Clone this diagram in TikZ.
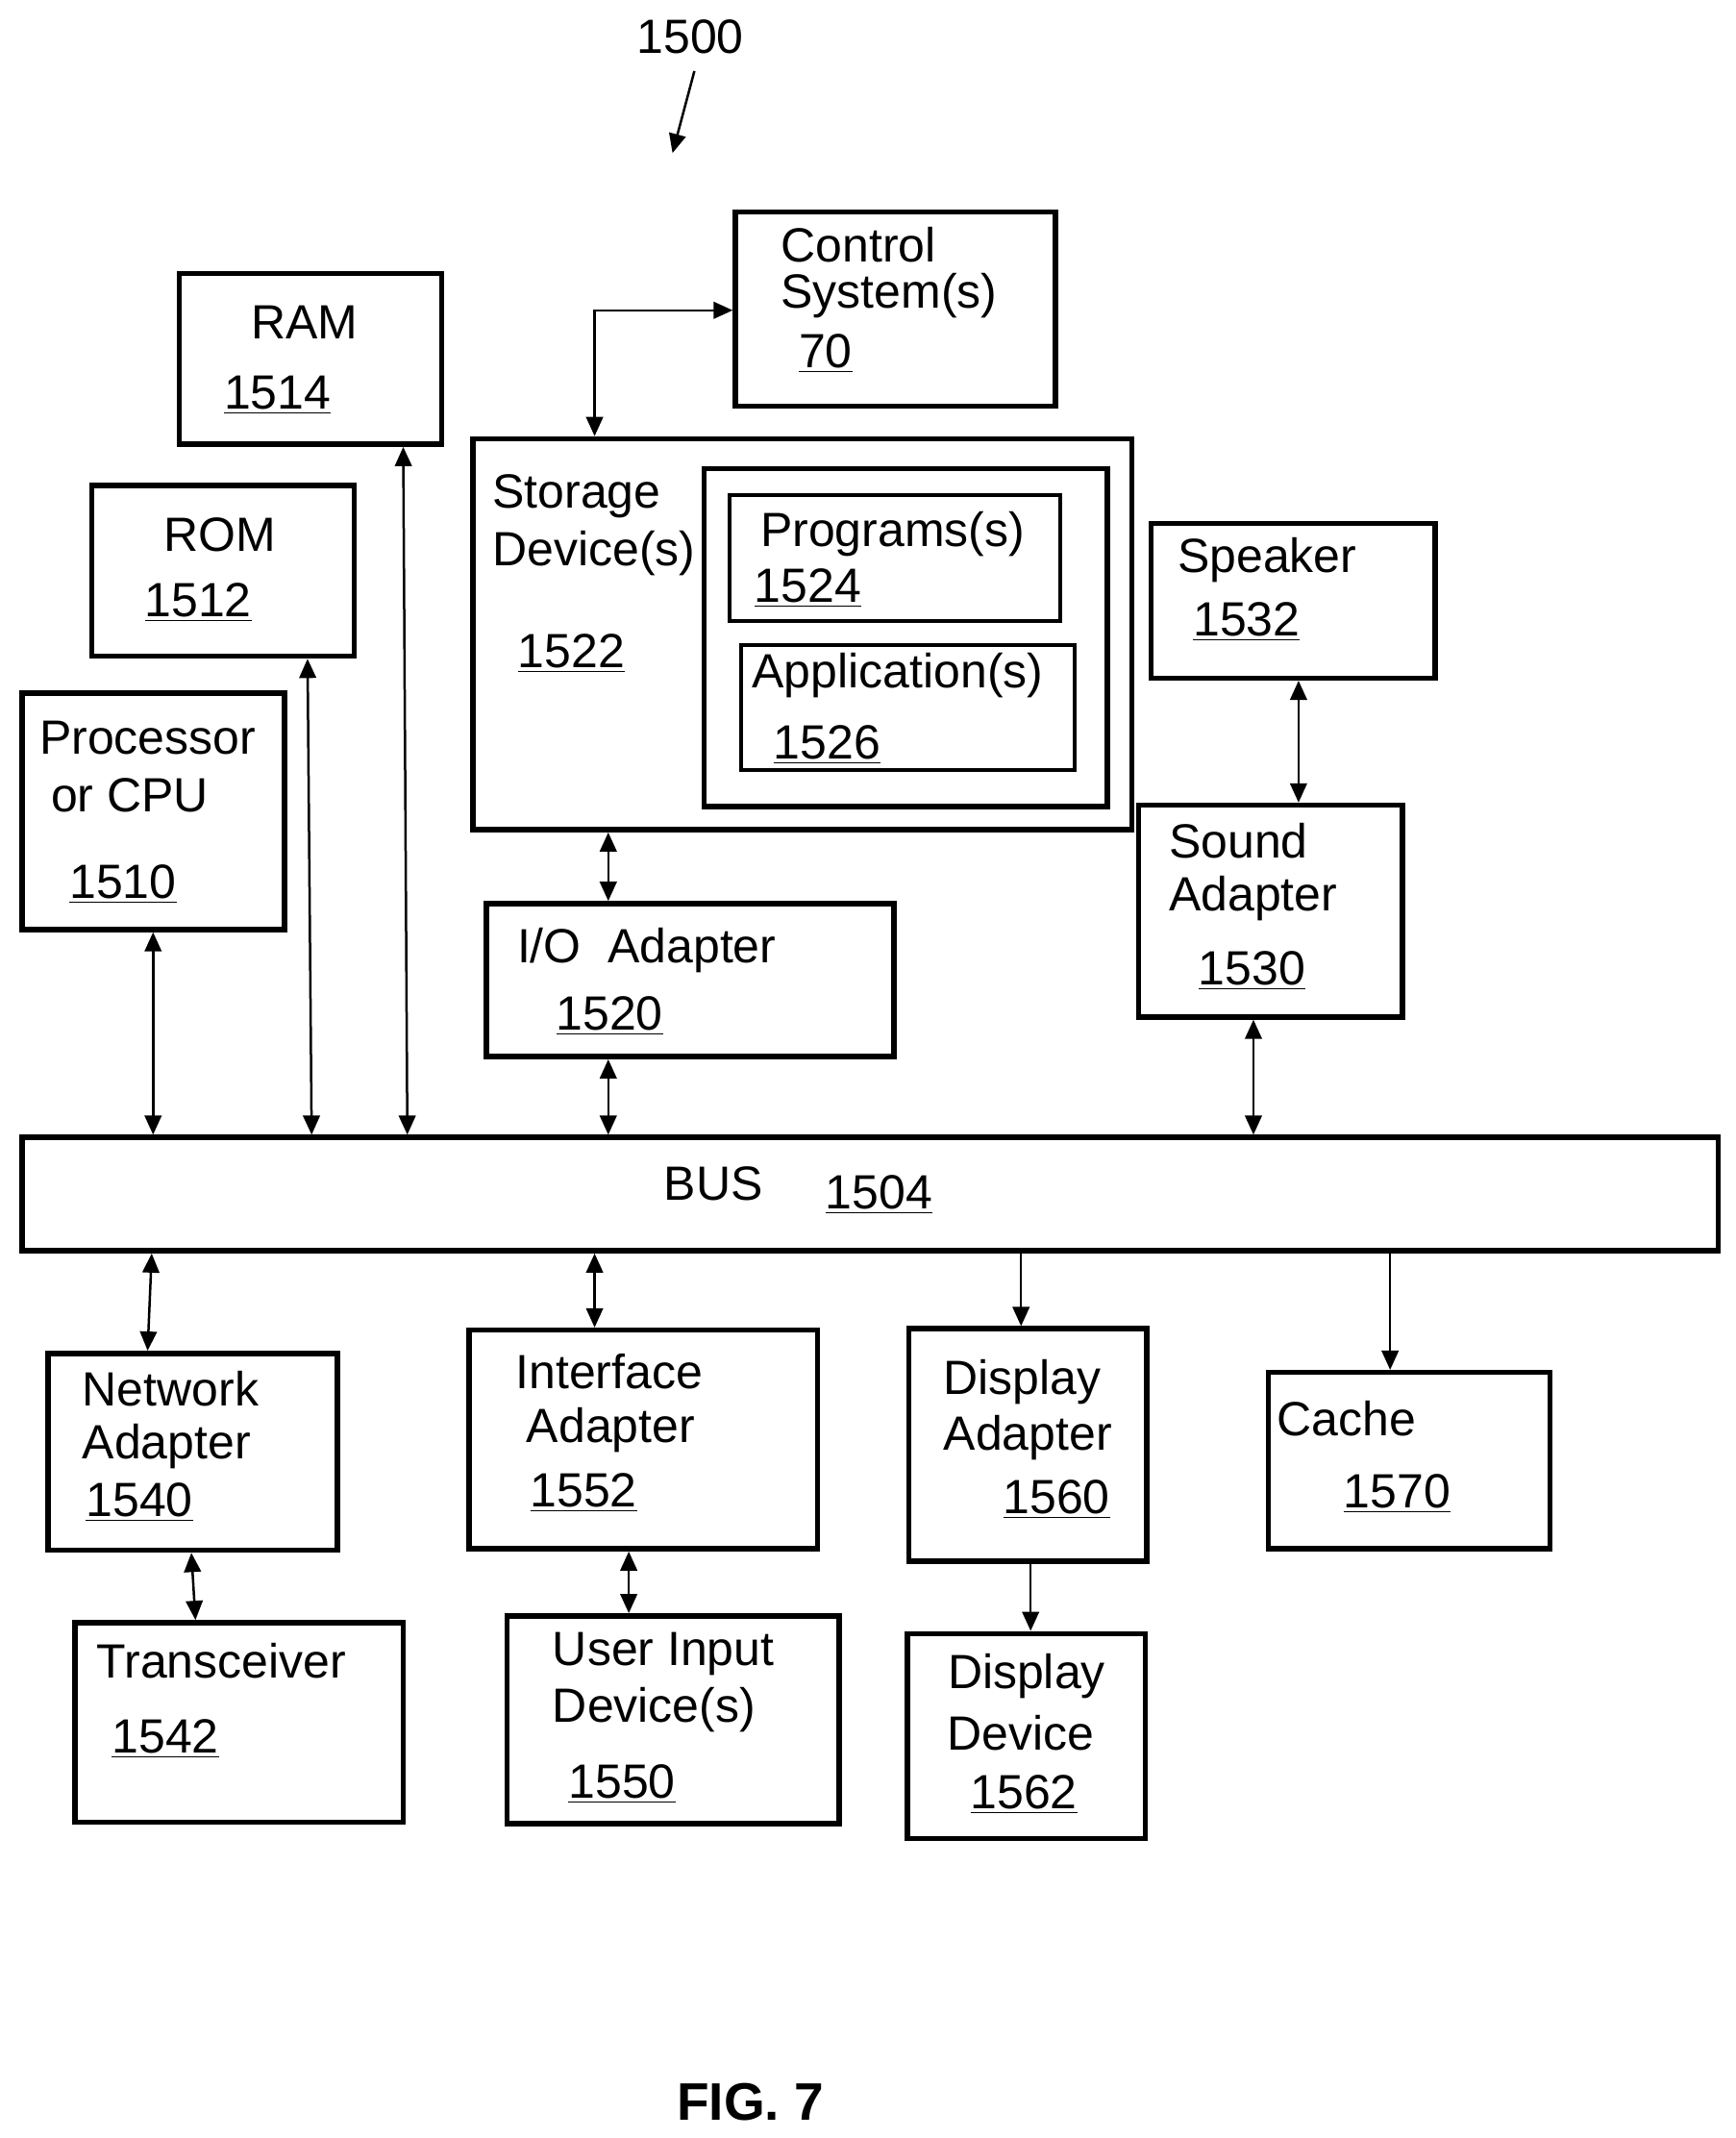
\documentclass[tikz,border=0pt]{standalone}
\usepackage{fontspec}
\setmainfont{Liberation Sans}
\usetikzlibrary{arrows.meta, fit, positioning}
\tikzset{
    box/.style={rectangle, draw, line width=2.2pt, inner sep=0pt},
    lbl/.style={font=\fontsize{20}{24}\selectfont, inner sep=0pt},
    dbl/.style={{Triangle[length=8pt,width=7pt]}-{Triangle[length=8pt,width=7pt]}, line width=1pt},
    one/.style={-{Triangle[length=8pt,width=7pt]}, line width=1pt}
}
\begin{document}
\begin{tikzpicture}[x=0.02cm, y=-0.02cm]
    \useasboundingbox (0,0) rectangle (1270,1564);
    % Figure reference
    \node[lbl] (ref) at (505,27) {1500};
    \coordinate (refend) at (492,112);
    \draw[one] (508,52) -- (refend);

    % Memory and processor
    \node[box, fit={(131,200) (323,325)}] (ram) {};
    \node[lbl] at (223,236) {RAM};
    \node[lbl] at (203,289) {\underline{1514}};
    \node[box, fit={(67,355) (259,480)}] (rom) {};
    \node[lbl] at (161,391) {ROM};
    \node[lbl] at (145,441) {\underline{1512}};
    \node[box, fit={(16,507) (208,680)}] (cpu) {};
    \node[lbl] at (108,540) {Processor};
    \node[lbl] at (95,582) {or CPU};
    \node[lbl] at (90,647) {\underline{1510}};

    % Control and storage
    \node[box, fit={(538,155) (772,297)}] (ctrl) {};
    \node[lbl, anchor=west] at (571,179) {Control};
    \node[lbl, anchor=west] at (571,216) {System(s)};
    \node[lbl] at (604,259) {\underline{70}};
    \node[box, fit={(346,321) (828,607)}] (stor) {};
    \node[lbl, anchor=west] at (360,363) {Storage};
    \node[lbl, anchor=west] at (360,405) {Device(s)};
    \node[lbl] at (418,478) {\underline{1522}};
    \node[box, fit={(515,343) (810,590)}] (inner) {};
    \node[box, line width=1.6pt, fit={(534,362) (776,454)}] (prog) {};
    \node[lbl, anchor=west] at (556,391) {Programs(s)};
    \node[lbl] at (591,430) {\underline{1524}};
    \node[box, line width=1.6pt, fit={(542,472) (786,563)}] (app) {};
    \node[lbl, anchor=west] at (550,494) {Application(s)};
    \node[lbl] at (605,545) {\underline{1526}};

    % Sound
    \node[box, fit={(842,383) (1050,496)}] (spk) {};
    \node[lbl] at (927,410) {Speaker};
    \node[lbl] at (912,455) {\underline{1532}};
    \node[box, fit={(833,589) (1026,744)}] (snd) {};
    \node[lbl, anchor=west] at (855,615) {Sound};
    \node[lbl, anchor=west] at (855,657) {Adapter};
    \node[lbl] at (916,710) {\underline{1530}};

    % I/O adapter
    \node[box, fit={(356,661) (654,773)}] (io) {};
    \node[lbl, anchor=west] at (378,695) {I/O\ \ Adapter};
    \node[lbl] at (446,743) {\underline{1520}};

    % Bus
    \node[box, fit={(16,832) (1257,915)}] (bus) {};
    \node[lbl] at (522,866) {BUS};
    \node[lbl] at (643,874) {\underline{1504}};

    % Lower devices
    \node[box, fit={(35,990) (247,1134)}] (net) {};
    \node[lbl, anchor=west] at (60,1016) {Network};
    \node[lbl, anchor=west] at (60,1058) {Adapter};
    \node[lbl] at (102,1099) {\underline{1540}};
    \node[box, fit={(55,1187) (295,1333)}] (trx) {};
    \node[lbl] at (162,1215) {Transceiver};
    \node[lbl] at (121,1272) {\underline{1542}};
    \node[box, fit={(343,973) (598,1133)}] (intf) {};
    \node[lbl, anchor=west] at (377,1003) {Interface};
    \node[lbl, anchor=west] at (385,1046) {Adapter};
    \node[lbl] at (427,1092) {\underline{1552}};
    \node[box, fit={(371,1182) (614,1334)}] (uid) {};
    \node[lbl, anchor=west] at (404,1210) {User Input};
    \node[lbl, anchor=west] at (404,1251) {Device(s)};
    \node[lbl] at (455,1305) {\underline{1550}};
    \node[box, fit={(665,972) (839,1142)}] (dad) {};
    \node[lbl] at (748,1011) {Display};
    \node[lbl] at (752,1052) {Adapter};
    \node[lbl] at (773,1097) {\underline{1560}};
    \node[box, fit={(664,1195) (838,1345)}] (ddv) {};
    \node[lbl] at (751,1226) {Display};
    \node[lbl] at (747,1268) {Device};
    \node[lbl] at (749,1313) {\underline{1562}};
    \node[box, fit={(928,1004) (1134,1133)}] (cache) {};
    \node[lbl, anchor=west] at (934,1038) {Cache};
    \node[lbl] at (1022,1093) {\underline{1570}};

    % Connections
    \coordinate (corner) at (435,227);
    \draw[dbl] (ctrl.west |- corner) -- (corner) -- (stor.north -| corner);
    \draw[dbl] (cpu.south -| 112,0) -- (bus.north -| 112,0);
    \draw[dbl] (rom.south -| 225,0) -- (bus.north -| 228,0);
    \draw[dbl] (ram.south -| 295,0) -- (bus.north -| 298,0);
    \draw[dbl] (stor.south -| 445,0) -- (io.north -| 445,0);
    \draw[dbl] (io.south -| 445,0) -- (bus.north -| 445,0);
    \draw[dbl] (spk.south -| 950,0) -- (snd.north -| 950,0);
    \draw[dbl] (snd.south -| 917,0) -- (bus.north -| 917,0);
    \draw[dbl] (bus.south -| 111,0) -- (net.north -| 108,0);
    \draw[dbl] (bus.south -| 435,0) -- (intf.north -| 435,0);
    \draw[one] (bus.south -| 747,0) -- (dad.north -| 747,0);
    \draw[one] (bus.south -| 1017,0) -- (cache.north -| 1017,0);
    \draw[dbl] (net.south -| 140,0) -- (trx.north -| 143,0);
    \draw[dbl] (intf.south -| 460,0) -- (uid.north -| 460,0);
    \draw[one] (dad.south -| 754,0) -- (ddv.north -| 754,0);

    % Caption
    \node[lbl, font=\fontsize{22}{26}\selectfont\bfseries] (fig) at (549,1538) {FIG. 7};
\end{tikzpicture}
\end{document}
